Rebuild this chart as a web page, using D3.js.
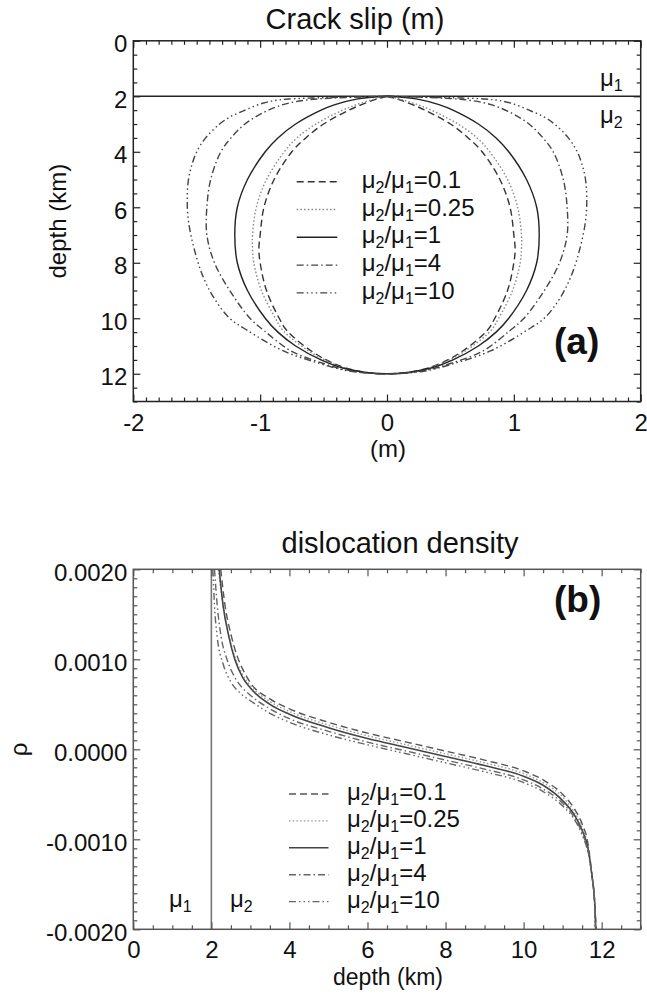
<!DOCTYPE html>
<html><head><meta charset="utf-8">
<script src="https://cdn.jsdelivr.net/npm/d3@7"></script>
<style>
body{margin:0;background:#fff}
text{font-family:"Liberation Sans",Arial,Helvetica,sans-serif;fill:#111}
</style>
</head><body>
<svg id="chart" width="647" height="996"></svg>
<script>
// ---------------- DATA ----------------
const ratios = ["0.1", "0.25", "1", "4", "10"];

// Panel (a): crack slip (m) vs depth (km) - half profiles (mirrored about 0)
const slipDepth_01  = [2, 2.1, 2.3, 2.5, 3, 3.5, 4, 5, 6, 7, 7.5, 8, 9, 10, 10.44, 11.17, 11.63, 11.9, 12];
const slip_01       = [0, .08, .20, .30, .50, .64, .75, .89, .97, 1.0, 1.01, 1.0, .95, .85, .79, .60, .42, .23, 0];
const slipDepth_025 = [2, 2.1, 2.3, 2.5, 3, 3.5, 4, 5, 6, 7, 7.5, 8, 9, 10, 10.44, 11.17, 11.63, 11.9, 12];
const slip_025      = [0, .10, .24, .35, .56, .71, .81, .95, 1.03, 1.06, 1.06, 1.05, .99, .88, .82, .62, .43, .24, 0];
const slipDepth_1   = [2, 2.1, 2.3, 2.5, 3, 3.5, 4, 5, 6, 7, 8, 9, 10, 10.5, 11, 11.5, 11.8, 12];
const slip_1        = [0, .24, .41, .52, .72, .86, .96, 1.10, 1.18, 1.20, 1.18, 1.10, .96, .86, .72, .52, .34, 0];
const slipDepth_4   = [2, 2.03, 2.08, 2.15, 2.3, 2.6, 3, 3.5, 4, 5, 6, 7, 8, 9, 10, 10.44, 11.17, 11.63, 11.9, 12];
const slip_4        = [0, .25, .5, .66, .82, .98, 1.12, 1.23, 1.31, 1.39, 1.42, 1.42, 1.36, 1.24, 1.08, .97, .76, .50, .28, 0];
const slipDepth_10  = [2, 2.02, 2.05, 2.1, 2.15, 2.25, 2.5, 2.75, 3, 3.5, 4, 4.5, 5, 5.7, 6.5, 7.5, 8.5, 9.3, 10, 10.44, 11.17, 11.63, 11.9, 12];
const slip_10       = [0, .2, .5, .78, .88, .98, 1.12, 1.24, 1.32, 1.43, 1.50, 1.54, 1.565, 1.575, 1.565, 1.52, 1.45, 1.36, 1.24, 1.10, .82, .53, .30, 0];

// Panel (b): dislocation density vs depth (km)
const rhoDepth_01  = [2.24, 2.35, 2.5, 2.65, 2.85, 3.0, 3.5, 4, 5, 6, 7, 8, 9, 10, 10.5, 11, 11.3, 11.5, 11.65, 11.75, 11.82, 11.86];
const rho_01       = [.0020, .0016, .00128, .00105, .00085, .00074, .00056, .00045, .0003, .00018, .00008, -.00002, -.00012, -.00024, -.00034, -.0005, -.00066, -.00083, -.00105, -.0014, -.0017, -.0020];
const rhoDepth_025 = [2.18, 2.3, 2.45, 2.6, 2.8, 3.0, 3.5, 4, 5, 6, 7, 8, 9, 10, 10.5, 11, 11.3, 11.5, 11.65, 11.75, 11.82, 11.85];
const rho_025      = [.0020, .0016, .00126, .00103, .00083, .00071, .00053, .00042, .00027, .00015, .00005, -.00005, -.00015, -.00027, -.00037, -.00053, -.0007, -.00087, -.00108, -.0014, -.0017, -.0020];
const rhoDepth_1   = [2.2, 2.3, 2.45, 2.6, 2.8, 3.0, 3.5, 4, 5, 6, 7, 8, 9, 10, 10.5, 11, 11.3, 11.5, 11.65, 11.75, 11.82, 11.85];
const rho_1        = [.0020, .0016, .00125, .0010, .0008, .00068, .0005, .00039, .00024, .00012, .00002, -.00008, -.00018, -.0003, -.0004, -.00057, -.00073, -.0009, -.0011, -.0014, -.0017, -.0020];
const rhoDepth_4   = [2.08, 2.15, 2.25, 2.4, 2.6, 2.8, 3.0, 3.5, 4, 5, 6, 7, 8, 9, 10, 10.5, 11, 11.3, 11.5, 11.65, 11.75, 11.82, 11.84];
const rho_4        = [.0020, .0016, .00125, .0010, .0008, .00068, .0006, .00045, .00034, .0002, .00008, -.00002, -.00012, -.00022, -.00034, -.00044, -.0006, -.00076, -.00093, -.00113, -.0014, -.0017, -.0020];
const rhoDepth_10  = [2.04, 2.08, 2.15, 2.3, 2.5, 2.75, 3.0, 3.5, 4, 5, 6, 7, 8, 9, 10, 10.5, 11, 11.3, 11.5, 11.65, 11.75, 11.82, 11.83];
const rho_10       = [.0020, .0016, .00125, .00095, .00075, .00062, .00054, .0004, .0003, .00016, .00005, -.00005, -.00015, -.00025, -.00037, -.00047, -.00063, -.00078, -.00095, -.00115, -.0014, -.0017, -.0020];

// Tick values
const xTicksA = [-2, -1, 0, 1, 2];
const yTicksA = [0, 2, 4, 6, 8, 10, 12];
const xTicksB = [0, 2, 4, 6, 8, 10, 12];
const yTicksB = [-0.002, -0.001, 0, 0.001, 0.002];

// ---------------- STYLES ----------------
const styles = [
  {dash: "7,4", colA: "#333", colB: "#555"},
  {dash: "1.5,2.2", colA: "#888", colB: "#999"},
  {dash: null, colA: "#222", colB: "#444"},
  {dash: "7,3,1.5,3", colA: "#444", colB: "#666"},
  {dash: "7,3,1.5,3,1.5,3,1.5,3", colA: "#444", colB: "#666"}
];

const slipSeries = [
  {d: slipDepth_01, v: slip_01}, {d: slipDepth_025, v: slip_025}, {d: slipDepth_1, v: slip_1},
  {d: slipDepth_4, v: slip_4}, {d: slipDepth_10, v: slip_10}
];
const rhoSeries = [
  {d: rhoDepth_01, v: rho_01}, {d: rhoDepth_025, v: rho_025}, {d: rhoDepth_1, v: rho_1},
  {d: rhoDepth_4, v: rho_4}, {d: rhoDepth_10, v: rho_10}
];

const svg = d3.select("#chart");
svg.append("rect").attr("width", 647).attr("height", 996).attr("fill", "#fff");

const hy = s => s.replace("\u2212", "-");

const xA = d3.scaleLinear([-2, 2], [133.3, 640.7]);
const yA = d3.scaleLinear([0, 13], [40.8, 401.5]);
const xB = d3.scaleLinear([0, 13], [133.3, 640.7]);
const yB = d3.scaleLinear([-0.002, 0.002], [929.3, 569.3]);

function minorVals(lo, hi, step, majors) {
  return d3.range(Math.round((hi - lo) / step) + 1).map(i => lo + i * step)
    .filter(v => !majors.some(m => Math.abs(m - v) < step / 10));
}

function axes(g, x, y, xMaj, xMin, yMaj, yMin, xFmt, yFmt, col) {
  const [x0, x1] = x.range();
  const yBot = Math.max(...y.range());
  const yTop = Math.min(...y.range());
  const style = sel => {
    sel.select(".domain").remove();
    sel.selectAll("line").attr("stroke", col).attr("stroke-width", 1.2);
    sel.selectAll("text").attr("font-size", 24).attr("fill", "#111")
      .attr("font-family", '"Liberation Sans",Arial,sans-serif');
  };
  g.append("g").attr("transform", `translate(0,${yBot})`)
    .call(d3.axisBottom(x).tickValues(xMaj).tickSize(-7).tickPadding(12).tickFormat(xFmt)).call(style);
  g.append("g").attr("transform", `translate(0,${yBot})`)
    .call(d3.axisBottom(x).tickValues(xMin).tickSize(-4).tickFormat("")).call(style);
  g.append("g").attr("transform", `translate(0,${yTop})`)
    .call(d3.axisTop(x).tickValues(xMaj).tickSize(-7).tickFormat("")).call(style);
  g.append("g").attr("transform", `translate(0,${yTop})`)
    .call(d3.axisTop(x).tickValues(xMin).tickSize(-4).tickFormat("")).call(style);
  const left = g.append("g").attr("transform", `translate(${x0},0)`)
    .call(d3.axisLeft(y).tickValues(yMaj).tickSize(-7).tickPadding(6).tickFormat(yFmt)).call(style);
  left.selectAll("text").attr("dy", "0.45em");
  g.append("g").attr("transform", `translate(${x0},0)`)
    .call(d3.axisLeft(y).tickValues(yMin).tickSize(-4).tickFormat("")).call(style);
  g.append("g").attr("transform", `translate(${x1},0)`)
    .call(d3.axisRight(y).tickValues(yMaj).tickSize(-7).tickFormat("")).call(style);
  g.append("g").attr("transform", `translate(${x1},0)`)
    .call(d3.axisRight(y).tickValues(yMin).tickSize(-4).tickFormat("")).call(style);
  g.append("rect").attr("x", x0).attr("y", yTop).attr("width", x1 - x0).attr("height", yBot - yTop)
    .attr("fill", "none").attr("stroke", col).attr("stroke-width", 1.5);
}

function muText(g, x, y, sub, size, subSize) {
  const t = g.append("text").attr("x", x).attr("y", y).attr("font-size", size);
  t.append("tspan").text("\u03bc");
  t.append("tspan").attr("font-size", subSize).attr("dy", 5).text(sub);
  return t;
}

function legend(g, x0, x1, tx, yStart, dy, colKey) {
  ratios.forEach((r, i) => {
    const yy = yStart + i * dy;
    const st = styles[i];
    g.append("line").attr("x1", x0).attr("x2", x1).attr("y1", yy).attr("y2", yy)
      .attr("stroke", st[colKey]).attr("stroke-width", 1.4)
      .attr("stroke-dasharray", st.dash);
    const t = g.append("text").attr("x", tx).attr("y", yy + 6).attr("font-size", 24);
    t.append("tspan").text("\u03bc");
    t.append("tspan").attr("font-size", 16).attr("dy", 5).text("2");
    t.append("tspan").attr("dy", -5).text("/\u03bc");
    t.append("tspan").attr("font-size", 16).attr("dy", 5).text("1");
    t.append("tspan").attr("dy", -5).text("=" + r);
  });
}

// ---------------- PANEL (a) ----------------
const gA = svg.append("g");
axes(gA, xA, yA, xTicksA, minorVals(-2, 2, 0.1, xTicksA), yTicksA, minorVals(0, 13, 0.5, yTicksA),
  d => hy(d3.format("d")(d)), d => d3.format("d")(d), "#222");

gA.append("line").attr("x1", xA(-2)).attr("x2", xA(2)).attr("y1", yA(2)).attr("y2", yA(2))
  .attr("stroke", "#222").attr("stroke-width", 1.4);

const lineA = d3.line().x(p => xA(p[0])).y(p => yA(p[1])).curve(d3.curveCatmullRom.alpha(0.5));
slipSeries.forEach((s, i) => {
  const right = s.d.map((z, k) => [s.v[k], z]);
  const left = s.d.map((z, k) => [-s.v[k], z]).reverse().slice(1);
  gA.append("path").attr("d", lineA(right.concat(left)))
    .attr("fill", "none").attr("stroke", styles[i].colA).attr("stroke-width", 1.4)
    .attr("stroke-dasharray", styles[i].dash);
});

legend(gA, 296.7, 337.3, 361.7, 181.7, 27.8, "colA");

muText(gA, 600, 86, "1", 24, 16);
muText(gA, 600, 123, "2", 24, 16);

gA.append("text").attr("x", 554).attr("y", 354).attr("font-size", 37).attr("font-weight", "bold").text("(a)");
gA.append("text").attr("x", 355).attr("y", 29).attr("font-size", 29).attr("text-anchor", "middle").text("Crack slip (m)");
gA.append("text").attr("x", 388).attr("y", 457).attr("font-size", 24).attr("text-anchor", "middle").text("(m)");
gA.append("text").attr("transform", `translate(66,${(yA(0) + yA(13)) / 2}) rotate(-90)`)
  .attr("font-size", 24).attr("text-anchor", "middle").text("depth (km)");

// ---------------- PANEL (b) ----------------
const gB = svg.append("g");
svg.append("clipPath").attr("id", "clipB").append("rect")
  .attr("x", 133.3).attr("y", 569.3).attr("width", 640.7 - 133.3).attr("height", 929.3 - 569.3);

gB.append("line").attr("x1", xB(2)).attr("x2", xB(2)).attr("y1", yB(0.002)).attr("y2", yB(-0.002))
  .attr("stroke", "#777").attr("stroke-width", 1.6);

const lineB = d3.line().x(p => xB(p[0])).y(p => yB(p[1])).curve(d3.curveMonotoneX);
const curvesB = gB.append("g").attr("clip-path", "url(#clipB)");
rhoSeries.forEach((s, i) => {
  curvesB.append("path").attr("d", lineB(s.d.map((z, k) => [z, s.v[k]])))
    .attr("fill", "none").attr("stroke", styles[i].colB).attr("stroke-width", i === 2 ? 1.6 : 1.4)
    .attr("stroke-dasharray", styles[i].dash);
});

axes(gB, xB, yB, xTicksB, minorVals(0, 13, 0.5, xTicksB), yTicksB, minorVals(-0.002, 0.002, 0.0001, yTicksB),
  d => d3.format("d")(d), d => hy(d3.format(".4f")(d)), "#555");

legend(gB, 289, 328.5, 347, 794, 26.9, "colB");

muText(gB, 169, 907, "1", 24, 16);
muText(gB, 230, 907, "2", 24, 16);

gB.append("text").attr("x", 554).attr("y", 612).attr("font-size", 37).attr("font-weight", "bold").text("(b)");
gB.append("text").attr("x", 400).attr("y", 553).attr("font-size", 29).attr("text-anchor", "middle").text("dislocation density");
gB.append("text").attr("x", 388).attr("y", 985).attr("font-size", 23).attr("text-anchor", "middle").text("depth (km)");
gB.append("text").attr("transform", `translate(27,${(yB(0.002) + yB(-0.002)) / 2}) rotate(-90)`)
  .attr("font-size", 24).attr("text-anchor", "middle").text("\u03c1");
</script>
</body></html>
